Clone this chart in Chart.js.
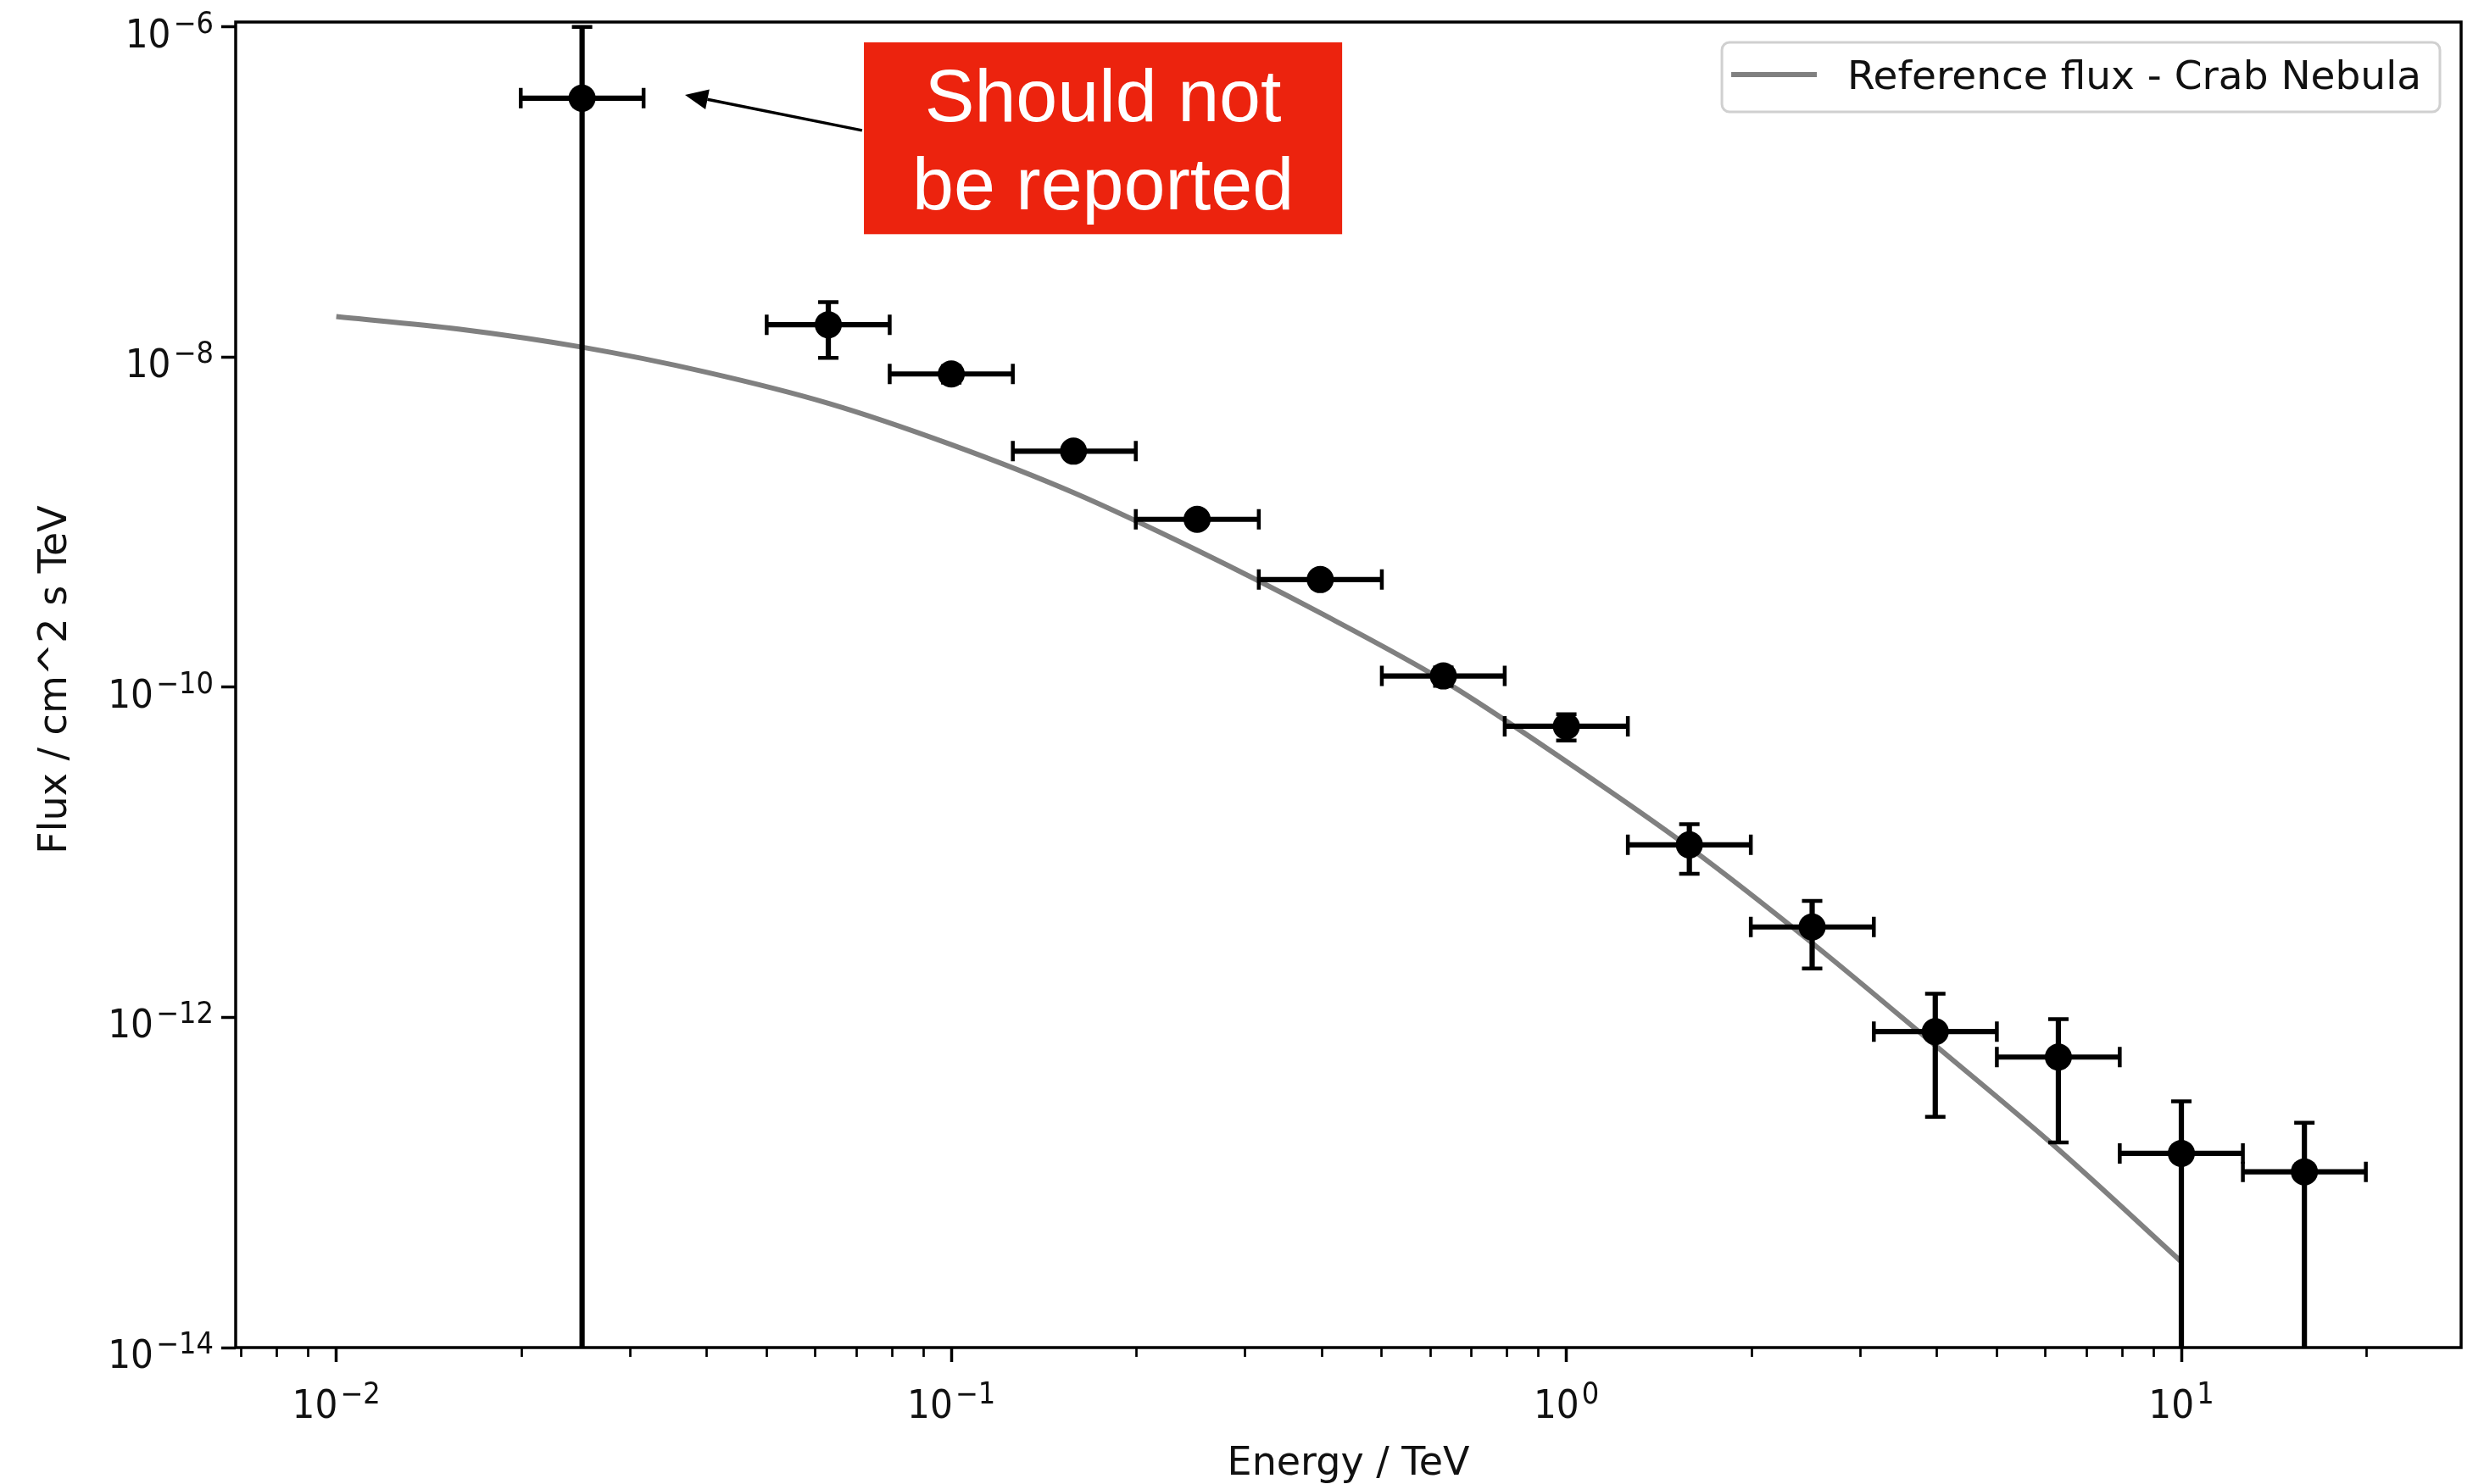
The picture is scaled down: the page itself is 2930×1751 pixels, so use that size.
<!DOCTYPE html>
<html>
<head>
<meta charset="utf-8">
<title>Flux points vs Crab reference</title>
<script src="https://cdn.jsdelivr.net/npm/chart.js@4.4.1/dist/chart.umd.min.js"></script>
<style>
  html, body { margin: 0; padding: 0; background: #ffffff; }
  #wrap { width: 2930px; height: 1751px; }
  canvas { display: block; }
</style>
</head>
<body>
<div id="wrap"><canvas id="sed" width="2930" height="1751"></canvas></div>
<script>
// ---- Flux points (bin centre, bin edges, flux, symmetric flux error) ----
const energy   = [0.0251, 0.0631, 0.1, 0.158, 0.251, 0.398, 0.631, 1.0, 1.585, 2.51, 3.98, 6.31, 10.0, 15.85];
const energyLo = [0.01995, 0.0501, 0.0794, 0.1259, 0.1995, 0.3162, 0.5012, 0.794, 1.259, 1.995, 3.162, 5.012, 7.94, 12.59];
const energyHi = [0.0316, 0.0794, 0.1259, 0.1995, 0.3162, 0.5012, 0.794, 1.259, 1.995, 3.162, 5.012, 7.94, 12.59, 19.95];
const flux     = [3.7e-7, 1.57e-8, 7.9e-9, 2.69e-9, 1.04e-9, 4.49e-10, 1.17e-10, 5.8e-11, 1.11e-11, 3.53e-12, 8.2e-13, 5.75e-13, 1.5e-13, 1.16e-13];
const fluxErr  = [6.3e-7, 5.8e-9, 9e-10, 2.5e-10, 8e-11, 4e-11, 1.5e-11, 1.05e-11, 3.7e-12, 1.55e-12, 5.7e-13, 4.0e-13, 1.6e-13, 1.14e-13];

// ---- Reference spectrum (Crab Nebula) ----
const refEnergy = [0.01, 0.0158, 0.0251, 0.0398, 0.0631, 0.1, 0.158, 0.251, 0.398, 0.631, 1.0, 1.585, 2.51, 3.98, 6.31, 10.0];
const refFlux   = [1.758e-8, 1.479e-8, 1.148e-8, 8.13e-9, 5.25e-9, 2.95e-9, 1.51e-9, 6.76e-10, 2.82e-10, 1.096e-10, 3.55e-11, 1.07e-11, 2.82e-12, 6.76e-13, 1.585e-13, 3.31e-14];

// ---- Axis ranges and tick labels (decade exponents) ----
const xRange = [0.006862, 28.5];
const yRange = [1e-14, 1.07e-6];
const xTickExps = [-2, -1, 0, 1];
const yTickExps = [-14, -12, -10, -8, -6];

const legendLabel = 'Reference flux - Crab Nebula';
const xTitle = 'Energy / TeV';
const yTitle = 'Flux / cm^2 s TeV';
const noteLines = ['Should not', 'be reported'];

// annotation geometry in data coordinates
const noteBox = { x0: 0.0721, x1: 0.432, y0: 8.06e-7, y1: 5.55e-8 };
const noteArrow = { fromX: 0.0716, fromY: 2.36e-7, toX: 0.0369, toY: 3.87e-7 };

const BASE_FONT = '"DejaVu Sans", sans-serif';
const INK = '#111111';

const pointData = energy.map((e, i) => ({ x: e, y: flux[i] }));
const refData = refEnergy.map((e, i) => ({ x: e, y: refFlux[i] }));

// "10^n" tick label with a raised exponent
function drawPower(ctx, exp, x, yBase, yExpBase, align) {
  const sx = 0.92;
  const expStr = exp < 0 ? '\u2212' + Math.abs(exp) : String(exp);
  ctx.font = '46px ' + BASE_FONT;
  const wBase = ctx.measureText('10').width * sx;
  ctx.font = '35px ' + BASE_FONT;
  const wExp = ctx.measureText(expStr).width * sx;
  const gap = 3;
  const total = wBase + gap + wExp;
  const left = align === 'center' ? x - total / 2 : x - total;
  ctx.fillStyle = INK;
  ctx.textAlign = 'left';
  ctx.textBaseline = 'alphabetic';
  ctx.save();
  ctx.translate(left, yBase);
  ctx.scale(sx, 1);
  ctx.font = '46px ' + BASE_FONT;
  ctx.fillText('10', 0, 0);
  ctx.restore();
  ctx.save();
  ctx.translate(left + wBase + gap, yExpBase);
  ctx.scale(sx, 1);
  ctx.font = '35px ' + BASE_FONT;
  ctx.fillText(expStr, 0, 0);
  ctx.restore();
}

// error bars drawn right after the reference curve, beneath the markers
const errorBars = {
  id: 'errorBars',
  afterDatasetDraw(chart, args) {
    if (args.index !== 1) return;
    const { ctx, chartArea: a } = chart;
    const xs = chart.scales.x, ys = chart.scales.y;
    const cap = 12;
    ctx.save();
    ctx.beginPath();
    ctx.rect(a.left, a.top, a.right - a.left, a.bottom - a.top);
    ctx.clip();
    ctx.strokeStyle = '#000000';
    ctx.lineCap = 'butt';
    for (let i = 0; i < energy.length; i++) {
      const px = xs.getPixelForValue(energy[i]);
      const py = ys.getPixelForValue(flux[i]);
      const xl = xs.getPixelForValue(energyLo[i]);
      const xr = xs.getPixelForValue(energyHi[i]);
      const hi = flux[i] + fluxErr[i];
      const lo = flux[i] - fluxErr[i];
      const yt = ys.getPixelForValue(hi);
      const yb = lo > 0 ? ys.getPixelForValue(lo) : a.bottom + 20;

      ctx.lineWidth = 6.2;
      ctx.beginPath();
      ctx.moveTo(xl, py); ctx.lineTo(xr, py);
      ctx.moveTo(px, yt); ctx.lineTo(px, yb);
      ctx.stroke();

      ctx.lineWidth = 4.5;
      ctx.beginPath();
      ctx.moveTo(xl, py - cap); ctx.lineTo(xl, py + cap);
      ctx.moveTo(xr, py - cap); ctx.lineTo(xr, py + cap);
      ctx.moveTo(px - cap, yt); ctx.lineTo(px + cap, yt);
      if (lo > 0) { ctx.moveTo(px - cap, yb); ctx.lineTo(px + cap, yb); }
      ctx.stroke();
    }
    ctx.restore();
  }
};

// frame, minor ticks, tick labels, titles, legend and the note
const decorations = {
  id: 'decorations',
  afterDraw(chart) {
    const { ctx, chartArea: a } = chart;
    const xs = chart.scales.x, ys = chart.scales.y;
    ctx.save();

    // minor ticks on the energy axis
    ctx.strokeStyle = '#000000';
    ctx.lineWidth = 2.7;
    ctx.beginPath();
    for (let d = -3; d <= 1; d++) {
      for (let m = 2; m <= 9; m++) {
        const v = m * Math.pow(10, d);
        if (v < xRange[0] || v > xRange[1]) continue;
        const px = Math.round(xs.getPixelForValue(v)) + 0.5;
        ctx.moveTo(px, a.bottom);
        ctx.lineTo(px, a.bottom + 11);
      }
    }
    ctx.stroke();

    // axes frame
    ctx.lineWidth = 3.5;
    ctx.strokeRect(a.left, a.top, a.right - a.left, a.bottom - a.top);

    // tick labels
    xTickExps.forEach(e => {
      const px = xs.getPixelForValue(Math.pow(10, e));
      drawPower(ctx, e, px, a.bottom + 83, a.bottom + 66, 'center');
    });
    yTickExps.forEach(e => {
      const py = ys.getPixelForValue(Math.pow(10, e));
      drawPower(ctx, e, a.left - 26, py + 24, py + 7, 'right');
    });

    // axis titles
    ctx.fillStyle = INK;
    ctx.font = '46px ' + BASE_FONT;
    ctx.textAlign = 'center';
    ctx.textBaseline = 'alphabetic';
    ctx.fillText(xTitle, (a.left + a.right) / 2, 1740);
    ctx.save();
    ctx.translate(78, (a.top + a.bottom) / 2 - 6);
    ctx.rotate(-Math.PI / 2);
    ctx.fillText(yTitle, 0, 0);
    ctx.restore();

    // legend (upper right, inside the axes)
    ctx.font = '47px ' + BASE_FONT;
    const tw = ctx.measureText(legendLabel).width;
    const boxR = a.right - 25, boxT = a.top + 24, boxH = 82;
    const boxL = boxR - (11 + 101 + 36 + tw + 22);
    ctx.beginPath();
    ctx.roundRect(boxL, boxT, boxR - boxL, boxH, 9);
    ctx.fillStyle = 'rgba(255,255,255,0.8)';
    ctx.fill();
    ctx.strokeStyle = '#d0d0d0';
    ctx.lineWidth = 3;
    ctx.stroke();
    const ly = boxT + 38;
    ctx.strokeStyle = '#808080';
    ctx.lineWidth = 6;
    ctx.beginPath();
    ctx.moveTo(boxL + 11, ly);
    ctx.lineTo(boxL + 112, ly);
    ctx.stroke();
    ctx.fillStyle = INK;
    ctx.textAlign = 'left';
    ctx.fillText(legendLabel, boxL + 148, boxT + 55);

    // note box with arrow
    const bx0 = xs.getPixelForValue(noteBox.x0), bx1 = xs.getPixelForValue(noteBox.x1);
    const by0 = ys.getPixelForValue(noteBox.y0), by1 = ys.getPixelForValue(noteBox.y1);
    ctx.fillStyle = '#EC230E';
    ctx.fillRect(bx0, by0, bx1 - bx0, by1 - by0);
    ctx.fillStyle = '#ffffff';
    ctx.font = '88px "Liberation Sans", Arial, sans-serif';
    ctx.textAlign = 'center';
    const cx = (bx0 + bx1) / 2;
    ctx.fillText(noteLines[0], cx, by0 + 93);
    ctx.fillText(noteLines[1], cx, by0 + 197);

    const fx = xs.getPixelForValue(noteArrow.fromX), fy = ys.getPixelForValue(noteArrow.fromY);
    const tx = xs.getPixelForValue(noteArrow.toX), ty = ys.getPixelForValue(noteArrow.toY);
    const ang = Math.atan2(ty - fy, tx - fx);
    const headL = 27, headW = 12;
    const hx = tx - headL * Math.cos(ang), hy = ty - headL * Math.sin(ang);
    ctx.strokeStyle = '#000000';
    ctx.lineWidth = 3.5;
    ctx.beginPath();
    ctx.moveTo(fx, fy);
    ctx.lineTo(hx, hy);
    ctx.stroke();
    ctx.fillStyle = '#000000';
    ctx.beginPath();
    ctx.moveTo(tx, ty);
    ctx.lineTo(hx + headW * Math.sin(ang), hy - headW * Math.cos(ang));
    ctx.lineTo(hx - headW * Math.sin(ang), hy + headW * Math.cos(ang));
    ctx.closePath();
    ctx.fill();

    ctx.restore();
  }
};

new Chart(document.getElementById('sed'), {
  type: 'scatter',
  data: {
    datasets: [
      {
        label: 'Flux points',
        data: pointData,
        showLine: false,
        pointRadius: 16,
        pointHoverRadius: 16,
        pointBackgroundColor: '#000000',
        pointBorderWidth: 0
      },
      {
        label: legendLabel,
        data: refData,
        showLine: true,
        borderColor: '#808080',
        borderWidth: 6,
        pointRadius: 0,
        pointHoverRadius: 0,
        fill: false,
        cubicInterpolationMode: 'monotone'
      }
    ]
  },
  options: {
    responsive: false,
    maintainAspectRatio: false,
    devicePixelRatio: 1,
    animation: false,
    events: [],
    layout: { padding: { left: 0, right: 27, top: 26, bottom: 0 } },
    plugins: {
      legend: { display: false },
      tooltip: { enabled: false },
      title: { display: false }
    },
    scales: {
      x: {
        type: 'logarithmic',
        position: 'bottom',
        min: xRange[0],
        max: xRange[1],
        bounds: 'data',
        afterBuildTicks: s => { s.ticks = xTickExps.map(e => ({ value: Math.pow(10, e), major: true })); },
        afterFit: s => { s.height = 161; },
        ticks: { display: false, autoSkip: false },
        border: { display: false },
        grid: { display: true, drawOnChartArea: false, drawTicks: true, tickLength: 17, tickWidth: 3.5, tickColor: '#000000' },
        title: { display: false }
      },
      y: {
        type: 'logarithmic',
        position: 'left',
        min: yRange[0],
        max: yRange[1],
        bounds: 'data',
        afterBuildTicks: s => { s.ticks = yTickExps.map(e => ({ value: Math.pow(10, e), major: true })); },
        afterFit: s => { s.width = 278; },
        ticks: { display: false, autoSkip: false },
        border: { display: false },
        grid: { display: true, drawOnChartArea: false, drawTicks: true, tickLength: 17, tickWidth: 3.5, tickColor: '#000000' },
        title: { display: false }
      }
    }
  },
  plugins: [errorBars, decorations]
});
</script>
</body>
</html>
